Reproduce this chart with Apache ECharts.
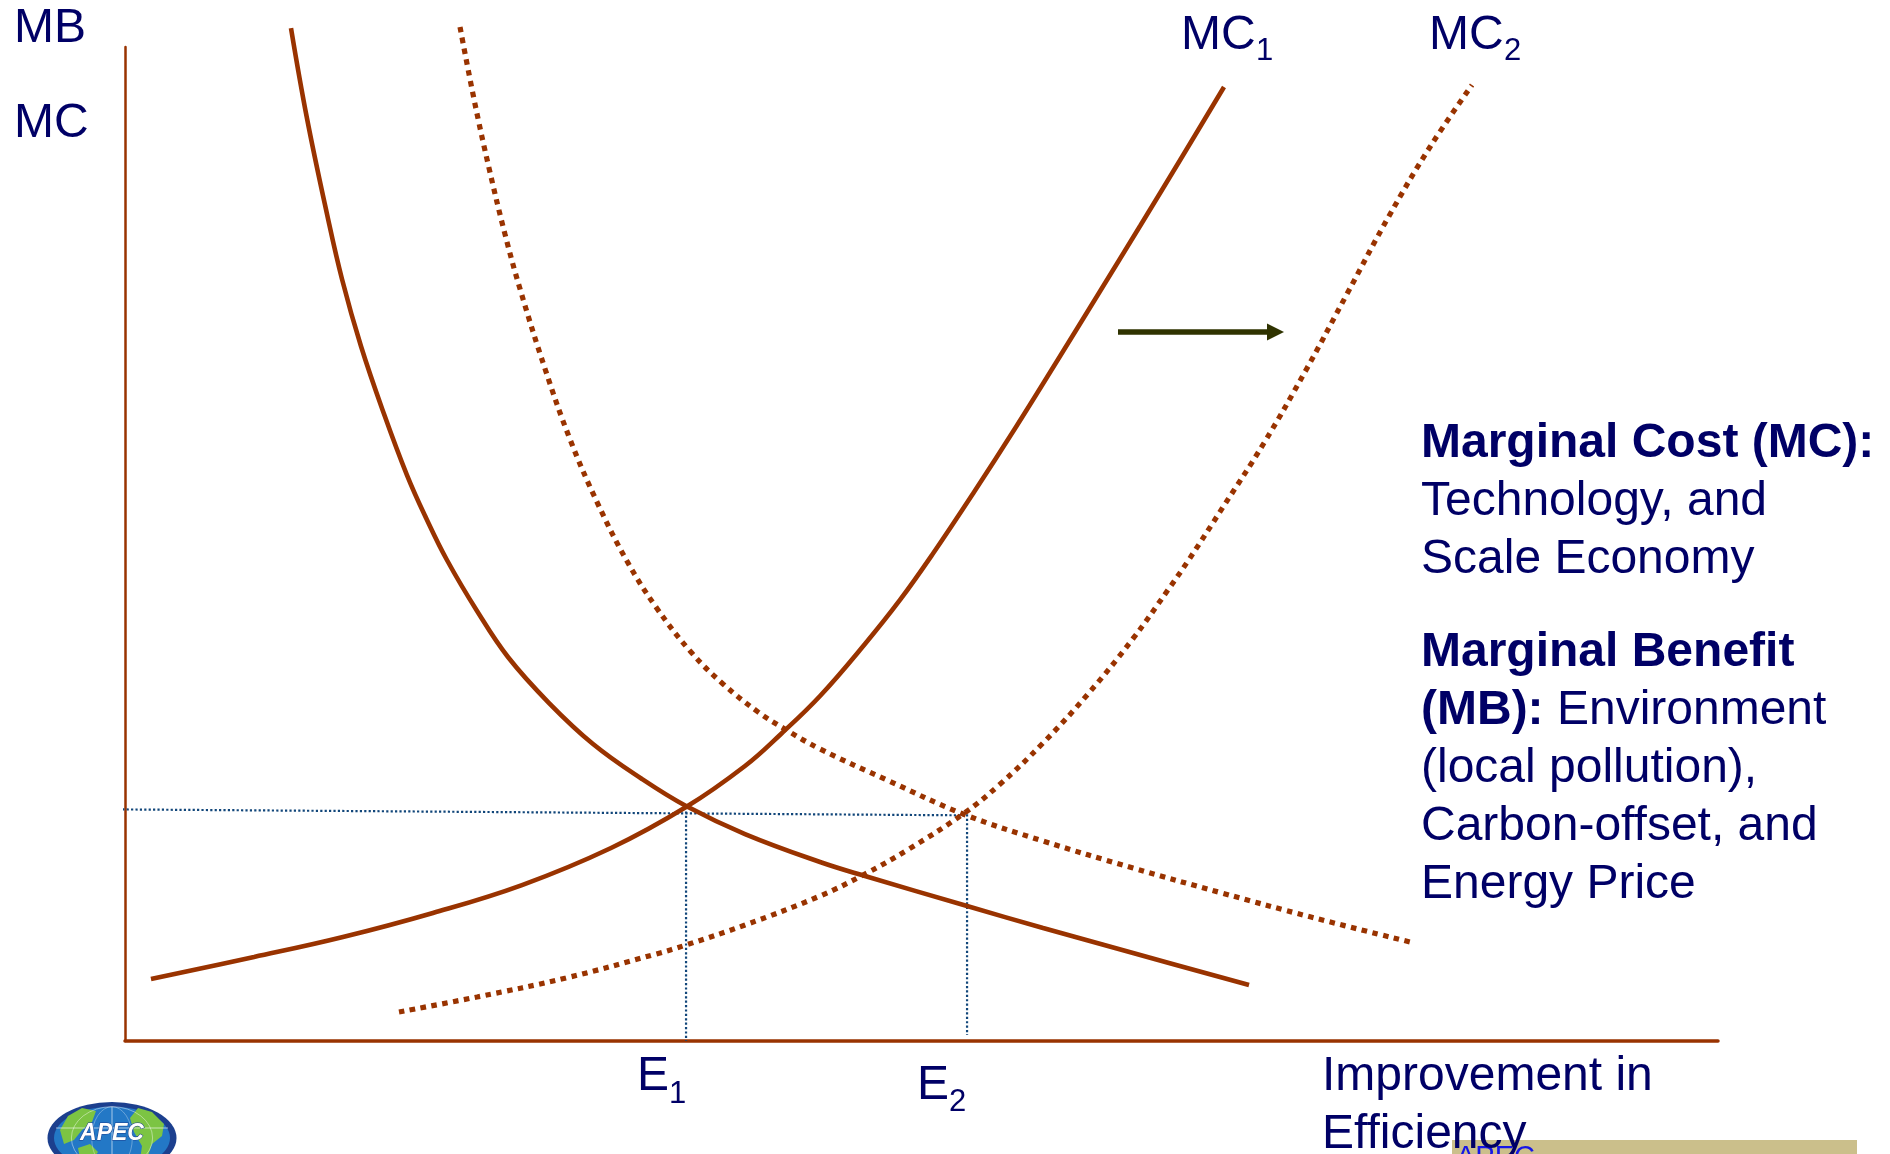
<!DOCTYPE html>
<html>
<head>
<meta charset="utf-8">
<title>Marginal Cost and Marginal Benefit of Efficiency Improvement</title>
<script src="https://cdn.jsdelivr.net/npm/echarts@6/dist/echarts.min.js"></script>
<style>
  html, body { margin: 0; padding: 0; background: #ffffff; }
  #chart { width: 1890px; height: 1154px; }
</style>
</head>
<body>
<div id="chart"></div>
<script>
// Curves as [improvement in efficiency, MB / MC] pairs (axis units 0-100)
const mb1 = [[10.42,101.91],[11.42,92.86],[12.68,83.20],[13.62,76.66],[14.81,69.92],[16.26,63.08],
  [17.70,56.94],[18.90,52.62],[20.21,48.39],[22.10,43.26],[24.04,38.63],[26.62,34.00],[29.38,29.88],
  [32.45,26.36],[35.22,23.64],[38.92,20.82],[43.63,18.01],[46.45,16.60],[52.86,13.58],[57.63,11.37],
  [63.28,8.85],[70.56,5.63]];

const mb2 = [[21.03,102.01],[21.97,94.27],[22.85,87.83],[23.85,81.19],[24.80,75.65],[26.37,67.61],
  [27.93,60.56],[29.69,54.02],[31.51,48.29],[33.33,43.66],[35.53,39.13],[37.54,35.92],[39.74,33.10],
  [41.31,31.49],[43.63,29.38],[47.83,26.26],[52.61,22.84],[57.63,20.12],[63.28,17.40],[68.86,14.89],
  [74.45,12.47],[80.92,9.86]];

const mc1 = [[1.63,6.24],[8.10,8.45],[13.68,10.46],[19.33,12.88],[24.92,15.69],[30.51,19.42],
  [35.22,23.54],[38.92,27.67],[41.18,30.89],[43.63,34.71],[46.45,39.94],[48.65,44.37],[50.66,48.89],
  [53.30,55.23],[55.93,61.77],[58.51,68.41],[61.14,75.25],[63.72,81.99],[66.35,88.93],[68.99,95.98]];

const mc2 = [[17.20,2.92],[22.10,4.43],[27.68,6.34],[33.33,8.75],[35.22,9.66],[38.92,11.67],
  [43.63,14.59],[46.45,16.80],[49.22,19.32],[52.61,22.84],[54.87,25.75],[57.63,29.98],[60.45,34.91],
  [63.21,40.34],[65.47,45.37],[66.73,48.29],[68.93,53.72],[71.50,60.16],[74.14,67.51],[76.71,75.15],
  [79.35,83.00],[81.92,89.94],[84.56,96.18]];

// Equilibrium guides
const E1_X = 35.22;
const E2_X = 52.86;
const eqLevel = [[-0.45, 23.3], [E2_X, 22.7]];
const e1Drop = [[E1_X, 23.1], [E1_X, 0]];
const e2Drop = [[E2_X, 22.8], [E2_X, 0.6]];

// Text
const yAxisNames = ['MB', 'MC'];
const costNote = ['Marginal Cost (MC):', 'Technology, and', 'Scale Economy'];
const benefitNote = ['Marginal Benefit', '(MB): ', 'Environment', '(local pollution),', 'Carbon-offset, and', 'Energy Price'];
const xAxisName = ['Improvement in', 'Efficiency'];

const FONT = '"Liberation Sans", Arial, Helvetica, sans-serif';
const NAVY = '#000066';
const BROWN = '#993300';
const GUIDE = '#11467a';

// place a single-line label by its baseline
function label(text, x, baseline, size, color) {
  return {
    type: 'text', x: x, y: baseline - 0.3465 * size, z: 10,
    style: {
      text: text, fill: color || NAVY, fontFamily: FONT, fontSize: size,
      align: 'left', verticalAlign: 'middle'
    }
  };
}

function curve(name, data, dotted) {
  return {
    name: name, type: 'line', data: data, smooth: 0.4, symbol: 'none', clip: false,
    silent: true, z: 3,
    lineStyle: { color: BROWN, width: dotted ? 5.2 : 4.6, type: dotted ? [5.5, 5.5] : 'solid', cap: 'butt' }
  };
}

function guide(name, data) {
  return {
    name: name, type: 'line', data: data, symbol: 'none', clip: false, silent: true, z: 2,
    lineStyle: { color: GUIDE, width: 2.2, type: [2.2, 2.2], cap: 'butt' }
  };
}

const LH = 58;
const NOTE = 48;
const noteRich = {
  b: { fontFamily: FONT, fontSize: NOTE, fontWeight: 'bold', fill: NAVY, lineHeight: LH },
  r: { fontFamily: FONT, fontSize: NOTE, fill: NAVY, lineHeight: LH }
};

const graphics = [
  label(yAxisNames[0], 14, 45, 48),
  label(yAxisNames[1], 14, 140, 48),
  label('MC', 1181, 52, 48), label('1', 1256, 62, 31),
  label('MC', 1429, 52, 48), label('2', 1504, 62, 31),
  label('E', 637, 1093, 48), label('1', 669, 1105, 31),
  label('E', 917, 1102, 48), label('2', 949, 1113, 31),
  // shift arrow
  {
    type: 'group', z: 10,
    children: [
      { type: 'line', shape: { x1: 1118, y1: 332, x2: 1270, y2: 332 }, style: { stroke: '#2f3300', lineWidth: 5.3 } },
      { type: 'polygon', shape: { points: [[1267, 323.5], [1284, 332], [1267, 340.5]] }, style: { fill: '#2f3300' } }
    ]
  },
  // explanatory notes
  {
    type: 'text', x: 1421, y: 460 - 0.3465 * NOTE - LH / 2, z: 10,
    style: {
      text: '{b|' + costNote[0] + '}\n{r|' + costNote[1] + '}\n{r|' + costNote[2] + '}',
      verticalAlign: 'top', align: 'left', rich: noteRich
    }
  },
  {
    type: 'text', x: 1421, y: 669 - 0.3465 * NOTE - LH / 2, z: 10,
    style: {
      text: '{b|' + benefitNote[0] + '}\n{b|' + benefitNote[1] + '}{r|' + benefitNote[2] + '}\n{r|' +
        benefitNote[3] + '}\n{r|' + benefitNote[4] + '}\n{r|' + benefitNote[5] + '}',
      verticalAlign: 'top', align: 'left', rich: noteRich
    }
  },
  // footer band
  { type: 'rect', z: 5, shape: { x: 1452, y: 1140, width: 405, height: 20 }, style: { fill: '#cbbf8b' } },
  label('APEC', 1456, 1168, 29, '#1616e8'),
  label(xAxisName[0], 1322, 1093, 48),
  label(xAxisName[1], 1322, 1151, 48),
  // APEC emblem
  {
    type: 'group', x: 112, y: 1138, z: 8,
    children: [
      { type: 'circle', shape: { cx: 0, cy: 0, r: 64.5 }, scaleY: 0.56, style: { fill: '#1c3f8e' } },
      { type: 'circle', shape: { cx: 0, cy: 0, r: 58 }, scaleY: 0.54, style: { fill: '#2378c6' } },
      { type: 'polygon', shape: { points: [[-52,-8],[-44,-22],[-30,-30],[-16,-27],[-20,-16],[-30,-8],[-38,2],[-48,6]] }, style: { fill: '#7cc443' } },
      { type: 'polygon', shape: { points: [[-34,10],[-22,6],[-14,14],[-20,22],[-32,20]] }, style: { fill: '#7cc443' } },
      { type: 'polygon', shape: { points: [[26,-30],[40,-26],[52,-14],[50,-2],[40,6],[36,18],[28,22],[30,8],[22,-6],[18,-20]] }, style: { fill: '#7cc443' } },
      { type: 'circle', shape: { cx: 0, cy: 0, r: 58 }, scaleX: 0.35, scaleY: 0.54, style: { fill: 'none', stroke: 'rgba(255,255,255,0.7)', lineWidth: 1 } },
      { type: 'circle', shape: { cx: 0, cy: 0, r: 58 }, scaleX: 0.7, scaleY: 0.54, style: { fill: 'none', stroke: 'rgba(255,255,255,0.7)', lineWidth: 1 } },
      { type: 'line', shape: { x1: -56, y1: -10, x2: 56, y2: -10 }, style: { stroke: 'rgba(255,255,255,0.6)', lineWidth: 1 } },
      { type: 'line', shape: { x1: 0, y1: -31, x2: 0, y2: 31 }, style: { stroke: 'rgba(255,255,255,0.6)', lineWidth: 1 } },
      { type: 'text', x: 0, y: -4, style: { text: 'APEC', fill: '#ffffff', fontFamily: FONT, fontSize: 23, fontWeight: 'bold', fontStyle: 'italic', align: 'center', verticalAlign: 'middle', stroke: '#1c3f8e', lineWidth: 1 } }
    ]
  }
];

const chart = echarts.init(document.getElementById('chart'), null, { renderer: 'canvas' });
chart.setOption({
  backgroundColor: '#ffffff',
  animation: false,
  grid: { left: 125, right: 172, top: 47, bottom: 113, containLabel: false },
  xAxis: {
    type: 'value', min: 0, max: 100,
    axisLine: { show: true, onZero: false, lineStyle: { color: BROWN, width: 3.5 } },
    axisTick: { show: false }, axisLabel: { show: false }, splitLine: { show: false }
  },
  yAxis: {
    type: 'value', min: 0, max: 100,
    axisLine: { show: true, onZero: false, lineStyle: { color: BROWN, width: 2.5 } },
    axisTick: { show: false }, axisLabel: { show: false }, splitLine: { show: false }
  },
  series: [
    guide('Equilibrium level', eqLevel),
    guide('E1', e1Drop),
    guide('E2', e2Drop),
    curve('MB', mb1, false),
    curve('MB shifted', mb2, true),
    curve('MC1', mc1, false),
    curve('MC2', mc2, true)
  ],
  graphic: graphics
});
</script>
</body>
</html>
